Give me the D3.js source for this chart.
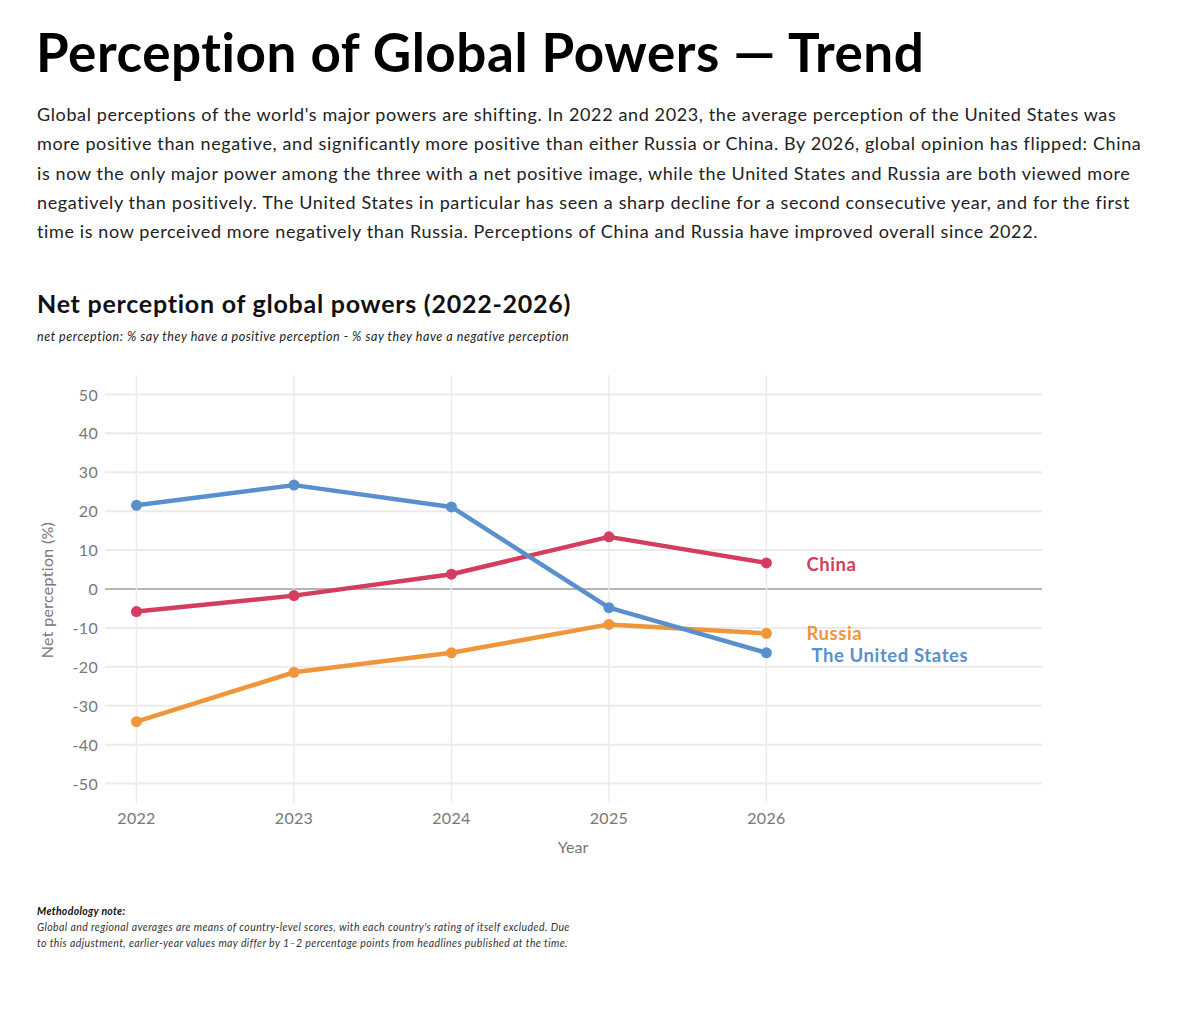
<!DOCTYPE html>
<meta charset="utf-8">
<script src="https://d3js.org/d3.v7.min.js"></script>
<style>
  body { margin: 0; background: #fff; }
  text { font-family: Lato, "Open Sans", sans-serif; }
</style>
<body>
<div id="my_dataviz"></div>
<script>

// data
var years = [2022, 2023, 2024, 2025, 2026]
var usValues = [21.5, 26.7, 21.1, -4.8, -16.4]
var chinaValues = [-5.8, -1.7, 3.8, 13.4, 6.7]
var russiaValues = [-34.1, -21.4, -16.4, -9.1, -11.4]
var seriesNames = ["China", "Russia", "The United States"]
var yTicks = [50, 40, 30, 20, 10, 0, -10, -20, -30, -40, -50]

var titleText = "Perception of Global Powers \u2014 Trend"
var introLines = [
  "Global perceptions of the world's major powers are shifting. In 2022 and 2023, the average perception of the United States was",
  "more positive than negative, and significantly more positive than either Russia or China. By 2026, global opinion has flipped: China",
  "is now the only major power among the three with a net positive image, while the United States and Russia are both viewed more",
  "negatively than positively. The United States in particular has seen a sharp decline for a second consecutive year, and for the first",
  "time is now perceived more negatively than Russia. Perceptions of China and Russia have improved overall since 2022."
]
var chartTitle = "Net perception of global powers (2022-2026)"
var chartNote = "net perception: % say they have a positive perception - % say they have a negative perception"
var methodTitle = "Methodology note:"
var methodLines = [
  "Global and regional averages are means of country-level scores, with each country's rating of itself excluded. Due",
  "to this adjustment, earlier-year values may differ by 1\u20132 percentage points from headlines published at the time."
]

var series = [
  {name: "China", values: chinaValues, color: "#d43d5e"},
  {name: "Russia", values: russiaValues, color: "#f0963a"},
  {name: "The United States", values: usValues, color: "#5a8fce"}
]

var width = 1200
var height = 1031
var svg = d3.select("#my_dataviz")
  .append("svg")
    .attr("width", width)
    .attr("height", height)

// headings
svg.append("text")
  .attr("x", 36).attr("y", 72)
  .style("font-size", "53px").style("font-weight", 700).style("fill", "#000")
  .style("letter-spacing", "0.55px")
  .text(titleText)

svg.selectAll("intro")
  .data(introLines)
  .enter()
  .append("text")
    .attr("x", 37)
    .attr("y", function(d, i){ return 121 + i * 29.3 })
    .style("font-size", "18px").style("fill", "#222")
    .style("letter-spacing", "0.62px")
    .text(function(d){ return d })

svg.append("text")
  .attr("x", 37).attr("y", 313)
  .style("font-size", "25px").style("font-weight", 700).style("fill", "#111")
  .style("letter-spacing", "0.75px")
  .text(chartTitle)

svg.append("text")
  .attr("x", 37).attr("y", 341)
  .style("font-size", "12.5px").style("font-style", "italic").style("fill", "#222")
  .style("letter-spacing", "0.55px")
  .text(chartNote)

// scales
var x = d3.scaleLinear().domain([2021.8, 2027.75]).range([105, 1042])
var y = d3.scaleLinear().domain([-55, 55]).range([803, 375])

// grid
svg.selectAll("hgrid")
  .data(yTicks)
  .enter()
  .append("line")
    .attr("x1", 105).attr("x2", 1042)
    .attr("y1", function(d){ return y(d) })
    .attr("y2", function(d){ return y(d) })
    .attr("stroke", function(d){ return d === 0 ? "#b5b5b5" : "#ebebeb" })
    .attr("stroke-width", 2)

svg.selectAll("vgrid")
  .data(years)
  .enter()
  .append("line")
    .attr("x1", function(d){ return x(d) })
    .attr("x2", function(d){ return x(d) })
    .attr("y1", 375).attr("y2", 803)
    .attr("stroke", "#ebebeb")
    .attr("stroke-width", 1.5)

// axis labels
svg.selectAll("ylab")
  .data(yTicks)
  .enter()
  .append("text")
    .attr("x", 98)
    .attr("y", function(d){ return y(d) + 2 })
    .attr("text-anchor", "end")
    .attr("dominant-baseline", "middle")
    .style("font-size", "16px").style("fill", "#777")
    .style("letter-spacing", "0.3px")
    .text(function(d){ return d })

svg.selectAll("xlab")
  .data(years)
  .enter()
  .append("text")
    .attr("x", function(d){ return x(d) })
    .attr("y", 824)
    .attr("text-anchor", "middle")
    .style("font-size", "16px").style("fill", "#777")
    .style("letter-spacing", "0.3px")
    .text(function(d){ return d })

svg.append("text")
  .attr("x", 573).attr("y", 853)
  .attr("text-anchor", "middle")
  .style("font-size", "16px").style("fill", "#777")
  .text("Year")

svg.append("text")
  .attr("transform", "translate(53,590) rotate(-90)")
  .attr("text-anchor", "middle")
  .style("font-size", "16px").style("fill", "#777")
  .style("letter-spacing", "0.3px")
  .text("Net perception (%)")

// lines
var line = d3.line()
  .x(function(d, i){ return x(years[i]) })
  .y(function(d){ return y(d) })

var order = [series[1], series[0], series[2]]
order.forEach(function(s){
  svg.append("path")
    .datum(s.values)
    .attr("d", line)
    .attr("fill", "none")
    .attr("stroke", s.color)
    .attr("stroke-width", 4.5)
    .attr("stroke-linejoin", "round")

  svg.selectAll("pts")
    .data(s.values)
    .enter()
    .append("circle")
      .attr("cx", function(d, i){ return x(years[i]) })
      .attr("cy", function(d){ return y(d) })
      .attr("r", 5.5)
      .style("fill", s.color)
})

// end labels
var labelDy = {"China": 3, "Russia": 1.5, "The United States": 4}
var labelDx = {"China": 40, "Russia": 40, "The United States": 45}
series.forEach(function(s){
  svg.append("text")
    .attr("x", x(2026) + labelDx[s.name])
    .attr("y", y(s.values[4]) + labelDy[s.name])
    .attr("dominant-baseline", "middle")
    .style("font-size", "18.5px").style("font-weight", 700).style("fill", s.color)
    .style("letter-spacing", "0.6px")
    .text(s.name)
})

// methodology
svg.append("text")
  .attr("x", 37).attr("y", 915)
  .style("font-size", "10.5px").style("font-weight", 700).style("font-style", "italic").style("fill", "#111")
  .style("letter-spacing", "0.3px")
  .text(methodTitle)

svg.selectAll("method")
  .data(methodLines)
  .enter()
  .append("text")
    .attr("x", 37)
    .attr("y", function(d, i){ return 931 + i * 16 })
    .style("font-size", "10.5px").style("font-style", "italic").style("fill", "#333")
    .style("letter-spacing", "0.4px")
    .text(function(d){ return d })

</script>
</body>
